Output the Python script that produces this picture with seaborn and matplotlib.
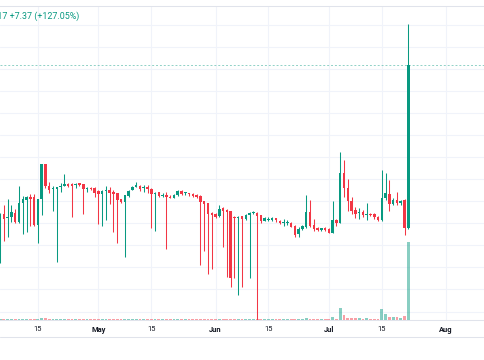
import numpy as np
import pandas as pd
import matplotlib
matplotlib.use("Agg")
import matplotlib.pyplot as plt
import matplotlib.dates as mdates
from matplotlib.lines import Line2D
import seaborn as sns

# daily candles, first one on Apr 5
start_date = "2024-04-05"

opens = [6.29, 6.42, 6.26, 6.30, 6.48, 6.07, 6.90, 7.07, 7.19, 7.18,
         5.92, 7.09, 8.69, 7.69, 7.54, 7.54, 7.63, 7.69, 7.78, 7.78,
         7.72, 7.81, 7.76, 7.54, 7.60, 7.60, 7.45, 7.31, 7.48, 7.52,
         7.42, 7.36, 7.09, 6.95, 7.24, 7.51, 7.66, 7.70, 7.59, 7.66,
         7.55, 7.33, 7.40, 7.25, 7.30, 7.21, 7.15, 7.27, 7.45, 7.36,
         7.36, 7.34, 7.28, 7.24, 7.00, 6.91, 6.45, 6.41, 6.34, 6.68,
         6.59, 6.54, 6.30, 6.24, 6.32, 6.19, 6.38, 6.45, 6.47, 6.36,
         6.12, 6.15, 6.15, 6.23, 6.12, 6.03, 6.00, 6.03, 5.88, 5.50,
         5.73, 5.82, 6.50, 5.91, 5.79, 5.71, 5.79, 5.75, 5.57, 6.15,
         6.03, 8.27, 7.61, 7.01, 6.60, 6.45, 6.53, 6.39, 6.42, 6.42,
         6.30, 6.15, 7.13, 7.33, 6.86, 7.06, 6.91, 7.06, 5.80]

highs = [6.47, 6.83, 7.09, 6.83, 6.63, 7.69, 7.24, 7.24, 7.31, 7.31,
         7.10, 8.70, 8.70, 7.87, 7.69, 7.66, 7.81, 8.23, 7.81, 7.81,
         7.84, 7.83, 7.80, 7.63, 7.63, 7.63, 7.51, 7.51, 7.69, 7.63,
         7.51, 7.39, 7.12, 7.27, 7.51, 7.69, 7.89, 7.75, 7.72, 7.75,
         7.59, 7.42, 7.43, 7.36, 7.43, 7.27, 7.33, 7.51, 7.51, 7.42,
         7.39, 7.36, 7.31, 7.27, 7.02, 6.93, 6.53, 6.45, 6.83, 6.72,
         6.63, 6.57, 6.33, 6.33, 6.34, 6.42, 6.51, 6.54, 6.50, 6.39,
         6.30, 6.27, 6.30, 6.25, 6.15, 6.18, 6.15, 6.06, 5.91, 5.82,
         5.92, 7.28, 7.06, 6.19, 5.82, 5.79, 5.82, 5.79, 7.01, 6.21,
         9.25, 8.87, 7.99, 7.18, 6.75, 6.68, 6.60, 6.91, 6.48, 6.45,
         6.33, 8.42, 8.27, 7.96, 7.13, 7.43, 7.06, 7.09, 15.03]

lows = [4.20, 5.21, 5.39, 6.07, 6.03, 6.03, 5.51, 5.62, 5.88, 5.88,
        5.09, 6.38, 7.60, 7.39, 6.57, 4.26, 7.43, 7.69, 7.63, 6.30,
        7.59, 7.69, 6.42, 7.43, 7.51, 7.18, 5.97, 5.89, 6.15, 6.86,
        5.62, 5.12, 6.90, 4.49, 7.21, 7.51, 7.63, 7.46, 7.43, 7.39,
        5.80, 5.64, 7.21, 7.21, 4.82, 7.13, 7.13, 7.24, 7.27, 7.30,
        7.24, 7.21, 7.16, 4.11, 4.74, 3.69, 3.91, 6.23, 6.30, 4.94,
        3.58, 3.12, 3.51, 2.75, 3.10, 6.15, 3.51, 6.42, 1.20, 6.03,
        6.09, 6.09, 6.12, 6.06, 5.97, 5.88, 5.91, 5.82, 5.39, 5.39,
        5.70, 5.77, 5.82, 5.66, 5.64, 5.66, 5.66, 5.55, 5.55, 5.88,
        6.00, 7.18, 6.57, 6.42, 6.23, 6.21, 6.27, 6.15, 6.33, 6.21,
        6.12, 6.12, 7.06, 6.56, 6.83, 6.83, 6.83, 5.47, 5.73]

closes = [6.42, 6.19, 6.29, 6.51, 6.07, 6.90, 7.09, 7.18, 7.10, 5.92,
          7.09, 8.69, 7.69, 7.51, 7.59, 7.66, 7.69, 7.78, 7.69, 7.69,
          7.78, 7.75, 7.54, 7.59, 7.54, 7.39, 7.31, 7.48, 7.52, 7.39,
          7.34, 7.06, 6.95, 7.27, 7.48, 7.66, 7.75, 7.57, 7.66, 7.55,
          7.33, 7.39, 7.25, 7.30, 7.18, 7.15, 7.30, 7.45, 7.33, 7.39,
          7.31, 7.25, 7.21, 6.95, 6.87, 6.41, 6.38, 6.30, 6.65, 6.54,
          6.51, 3.51, 6.23, 6.30, 6.21, 6.39, 6.45, 6.48, 6.33, 6.09,
          6.23, 6.21, 6.23, 6.14, 6.00, 6.07, 6.03, 5.85, 5.47, 5.75,
          5.88, 6.53, 5.88, 5.74, 5.70, 5.79, 5.70, 5.57, 6.15, 6.03,
          8.27, 7.61, 7.01, 6.57, 6.42, 6.53, 6.36, 6.42, 6.38, 6.27,
          6.15, 7.15, 7.36, 6.86, 7.06, 6.93, 7.01, 5.80, 13.17]

# volume (thousands)
volume = [1.3, 1.2, 1.2, 1.3, 1.2, 1.4, 1.3, 1.2, 1.3, 1.4,
          1.5, 2.5, 1.6, 1.2, 1.1, 1.2, 1.1, 1.2, 1.1, 1.2,
          1.1, 1.0, 1.1, 1.0, 1.0, 0.9, 1.0, 1.1, 1.0, 1.0,
          0.9, 1.1, 1.0, 1.3, 1.0, 0.9, 1.0, 0.9, 1.1, 0.9,
          1.0, 1.2, 0.9, 1.0, 0.9, 0.9, 0.9, 0.9, 0.9, 0.9,
          0.9, 0.9, 0.9, 0.9, 0.9, 0.9, 0.9, 0.9, 1.5, 0.9,
          0.9, 0.9, 0.9, 0.9, 0.9, 0.9, 0.9, 0.9, 0.9, 0.9,
          0.9, 0.9, 0.9, 0.9, 0.9, 0.9, 0.9, 0.9, 0.9, 0.9,
          0.9, 2.5, 1.3, 1.0, 1.0, 1.0, 1.0, 1.0, 3.0, 1.2,
          12.5, 5.0, 2.3, 2.0, 1.8, 1.8, 1.5, 2.2, 1.3, 1.2,
          1.2, 11.5, 6.0, 3.3, 3.0, 3.0, 2.0, 4.0, 78.0]

tick_dates = ["2024-04-15", "2024-05-01", "2024-05-15", "2024-06-01",
              "2024-06-15", "2024-07-01", "2024-07-15", "2024-08-01"]
tick_labels = ["15", "May", "15", "Jun", "15", "Jul", "15", "Aug"]
header = "13.17 +7.37 (+127.05%)"

UP = "#089981"
DOWN = "#f23645"
GRID = "#f0f3fa"
BORDER = "#e0e3eb"

sns.set_theme(style="white")
plt.rcParams["font.family"] = ["Roboto", "DejaVu Sans"]

df = pd.DataFrame({"open": opens, "high": highs, "low": lows, "close": closes, "volume": volume},
                  index=pd.date_range(start_date, periods=len(opens), freq="D"))
df["up"] = df["close"] >= df["open"]
x = mdates.date2num(df.index)
colors = np.where(df["up"], UP, DOWN)

fig = plt.figure(figsize=(4.85, 3.6), dpi=100)
ax = fig.add_axes([0, 40 / 360, 1, 314 / 360])

# grid
ax.set_yticks(np.arange(2, 16))
ax.set_xticks(mdates.date2num(pd.to_datetime(tick_dates)))
ax.set_xticklabels(tick_labels)
ax.grid(True, color=GRID, linewidth=0.75)
ax.tick_params(axis="y", left=False, labelleft=False, right=False)
ax.tick_params(axis="x", length=0, pad=4.2, labelsize=5.4, labelcolor="#131722")
for lbl in ax.get_xticklabels():
    if lbl.get_text() != "15":
        lbl.set_fontweight("bold")

# candles
ax.vlines(x, df["low"], df["high"], colors=colors, linewidth=0.75, zorder=3)
body_low = np.minimum(df["open"], df["close"])
body_h = np.maximum((df["close"] - df["open"]).abs(), 0.045)
ax.bar(x, body_h, bottom=body_low, width=0.66, color=colors, linewidth=0, zorder=4)

# last price line
ax.axhline(df["close"].iloc[-1], color=UP, linewidth=0.7, linestyle=(0, (2, 2)), alpha=0.45, zorder=2)

ax.set_xlim(x[0] - 0.03, x[0] + 128.3)
ax.set_ylim(1.617, 15.85)
for side in ["left", "right"]:
    ax.spines[side].set_visible(False)
for side in ["top", "bottom"]:
    ax.spines[side].set_color(BORDER)
    ax.spines[side].set_linewidth(0.75)

# volume overlay
ax_vol = ax.twinx()
vol_colors = np.where(df["up"], UP, DOWN)
ax_vol.bar(x, df["volume"], width=0.75, color=vol_colors, alpha=0.48, linewidth=0)
ax_vol.set_ylim(0, df["volume"].max() / 0.248)
ax_vol.set_yticks([])
for s in ax_vol.spines.values():
    s.set_visible(False)

fig.add_artist(Line2D([0, 1], [1 - 337 / 360] * 2, transform=fig.transFigure, color=BORDER, linewidth=0.75))
fig.text(-15 / 485, 1 - 16 / 360, header, color=UP, fontsize=6.4, va="center", ha="left")

fig.savefig("out.png", dpi=100)
